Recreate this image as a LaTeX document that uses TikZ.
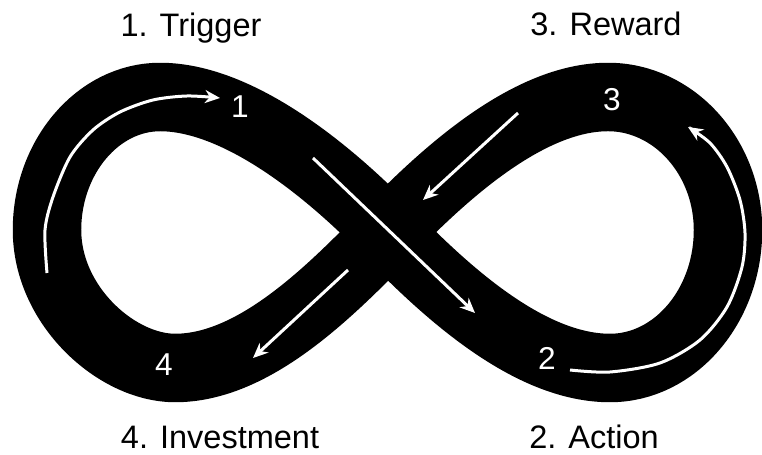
\documentclass[tikz,border=0pt]{standalone}
\usepackage{fontspec}
\setmainfont{Liberation Sans}
\usetikzlibrary{arrows.meta}

\begin{document}
\begin{tikzpicture}[x=0.02cm, y=-0.02cm,
  band/.style={draw=black, line width=1.37cm, line join=round},
  flow/.style={draw=white, line width=0.06cm, -{Stealth[length=3mm,width=2.6mm]}},
  stage/.style={font=\fontsize{18.5}{22}\selectfont, anchor=base, inner sep=0pt},
  num/.style={font=\fontsize{18}{21}\selectfont, text=white, inner sep=0pt}]
\useasboundingbox (0,0) rectangle (762,455);
% the loop
\draw[band] (388,232) .. controls (448,170) and (530,97) .. (608,97)
  .. controls (674,97) and (728,157) .. (728,230)
  .. controls (728,306) and (675,368) .. (610,368)
  .. controls (530,368) and (448,294) .. (388,232)
  .. controls (328,170) and (238,97) .. (160,97)
  .. controls (98,97) and (47,157) .. (47,230)
  .. controls (47,306) and (117,368) .. (175,368)
  .. controls (253,368) and (328,294) .. cycle;
% stage numbers
\node[num] (n1) at (240,107) {1};
\node[num] (n2) at (547,358) {2};
\node[num] (n3) at (612,100) {3};
\node[num] (n4) at (164,365) {4};
% arrows along the loop
\draw[flow] plot[smooth] coordinates {(47,273) (45,230) (53,197) (70,157) (93,130) (120,112) (153,100) (187,96) (220,98)};
\draw[flow] plot[smooth] coordinates {(570,370) (610,372) (660,363) (700,340) (727,307) (742,267) (745,233) (740,200) (727,167) (710,143) (688,127)};
\coordinate (a2s) at (313,158);
\coordinate (a2e) at (475,313);
\coordinate (a3s) at (518,113);
\coordinate (a3e) at (423,200);
\coordinate (a4s) at (348,270);
\coordinate (a4e) at (253,358);
\draw[flow] (a2s) -- (a2e);
\draw[flow] (a3s) -- (a3e);
\draw[flow] (a4s) -- (a4e);
% stage labels
\node[stage] (trigger) at (191,37) {1. Trigger};
\node[stage] (reward) at (606,36) {3. Reward};
\node[stage] (investment) at (220,449) {4. Investment};
\node[stage] (action) at (594,449) {2. Action};
\end{tikzpicture}
\end{document}
